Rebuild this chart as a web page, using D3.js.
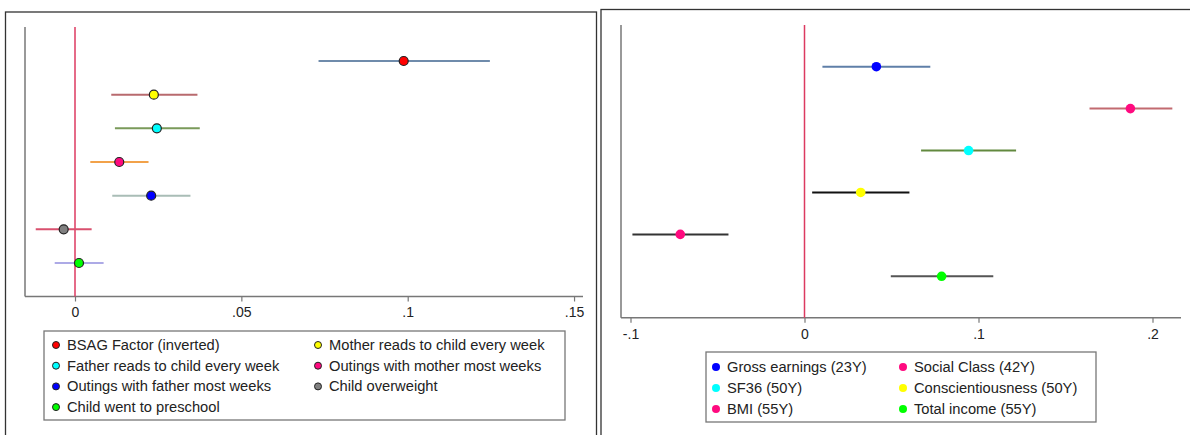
<!DOCTYPE html>
<html>
<head>
<meta charset="utf-8">
<script src="https://cdn.jsdelivr.net/npm/d3@7"></script>
<style>
  body { margin: 0; background: #fff; }
  svg text { font-family: "Liberation Sans", Arial, Helvetica, sans-serif; fill: #222; }
</style>
</head>
<body>
<svg id="chart" width="1190" height="435"></svg>
<script>
// Left panel: childhood factors
var leftLabels = ["BSAG Factor (inverted)", "Mother reads to child every week", "Father reads to child every week",
                  "Outings with mother most weeks", "Outings with father most weeks", "Child overweight", "Child went to preschool"]
var leftEst = [0.0988, 0.0237, 0.0246, 0.0133, 0.0229, -0.0034, 0.0012]
var leftLo  = [0.0732, 0.0109, 0.0120, 0.0046, 0.0112, -0.0118, -0.0061]
var leftHi  = [0.1247, 0.0368, 0.0375, 0.0221, 0.0347, 0.0050, 0.0086]
var leftDot = ["#ff0000", "#ffff00", "#00ffff", "#ff0a7f", "#0000ff", "#808080", "#00ff00"]
var leftCi  = ["#6f8bab", "#b86a6e", "#7a9a5a", "#f2a24a", "#a9bdb6", "#d9506e", "#adaae6"]
var leftTicks = [0, 0.05, 0.1, 0.15]
var leftTickLabels = ["0", ".05", ".1", ".15"]

// Right panel: adult outcomes
var rightLabels = ["Gross earnings (23Y)", "Social Class (42Y)", "SF36 (50Y)", "Conscientiousness (50Y)", "BMI (55Y)", "Total income (55Y)"]
var rightEst = [0.0413, 0.1873, 0.0943, 0.0323, -0.0714, 0.0788]
var rightLo  = [0.0103, 0.1638, 0.0670, 0.0044, -0.0989, 0.0496]
var rightHi  = [0.0723, 0.2114, 0.1216, 0.0603, -0.0437, 0.1085]
var rightDot = ["#0000ff", "#ff0a7f", "#00ffff", "#ffff00", "#ff0a7f", "#00ff00"]
var rightCi  = ["#5f7fa8", "#c26a70", "#62893f", "#111111", "#333333", "#555555"]
var rightTicks = [-0.1, 0, 0.1, 0.2]
var rightTickLabels = ["-.1", "0", ".1", ".2"]

var svg = d3.select("#chart")

//Draws one panel of the coefficient plot
function drawPanel(p) {
  var g = svg.append("g")

  //outer frame
  g.append("rect")
    .attr("x", p.frame[0]).attr("y", p.frame[1])
    .attr("width", p.frame[2]).attr("height", p.frame[3])
    .attr("fill", "none").attr("stroke", "#333").attr("stroke-width", 1.3)

  var x = d3.scaleLinear().domain(p.domain).range(p.range)
  var y = d3.scalePoint().domain(d3.range(p.est.length)).range(p.rows)

  //axis lines
  g.append("line")
    .attr("x1", p.axisX).attr("x2", p.axisX)
    .attr("y1", p.top).attr("y2", p.axisY)
    .attr("stroke", "#777").attr("stroke-width", 1.5)

  var xAxis = d3.axisBottom(x)
    .tickValues(p.ticks)
    .tickFormat(function(d, i) { return p.tickLabels[i] })
    .tickSize(5).tickPadding(6)

  var ax = g.append("g")
    .attr("transform", "translate(0," + p.axisY + ")")
    .call(xAxis)
  ax.select(".domain").remove()
  ax.selectAll(".tick line").attr("stroke", "#777").attr("stroke-width", 1.2)
  ax.selectAll(".tick text").style("font-size", "14px").attr("fill", "#222")
  g.append("line")
    .attr("x1", p.axisX).attr("x2", p.axisEnd)
    .attr("y1", p.axisY).attr("y2", p.axisY)
    .attr("stroke", "#777").attr("stroke-width", 1.5)

  //zero reference line
  g.append("line")
    .attr("x1", x(0)).attr("x2", x(0))
    .attr("y1", p.top).attr("y2", p.axisY)
    .attr("stroke", "#dc3a60").attr("stroke-width", 1.5)

  //confidence intervals
  g.selectAll(".ci").data(p.est).enter().append("line")
    .attr("x1", function(d, i) { return x(p.lo[i]) })
    .attr("x2", function(d, i) { return x(p.hi[i]) })
    .attr("y1", function(d, i) { return y(i) })
    .attr("y2", function(d, i) { return y(i) })
    .attr("stroke", function(d, i) { return p.ci[i] })
    .attr("stroke-width", 2)

  //point estimates
  g.selectAll(".dot").data(p.est).enter().append("circle")
    .attr("cx", function(d) { return x(d) })
    .attr("cy", function(d, i) { return y(i) })
    .attr("r", p.outline ? 4.5 : 4.8)
    .attr("fill", function(d, i) { return p.dot[i] })
    .attr("stroke", p.outline ? "#222" : "none")
    .attr("stroke-width", 1.2)

  //legend box
  var lb = p.legend
  g.append("rect")
    .attr("x", lb.x).attr("y", lb.y).attr("width", lb.w).attr("height", lb.h)
    .attr("fill", "#fff").attr("stroke", "#777").attr("stroke-width", 1.3)

  p.labels.forEach(function(lab, i) {
    var col = i % 2, row = Math.floor(i / 2)
    var lx = lb.x + lb.cols[col]
    var ly = lb.y + lb.row0 + row * lb.rowH
    g.append("circle")
      .attr("cx", lx).attr("cy", ly)
      .attr("r", p.outline ? 3.5 : 4)
      .attr("fill", p.dot[i])
      .attr("stroke", p.outline ? "#222" : "none")
      .attr("stroke-width", 1)
    g.append("text")
      .attr("x", lx + 11).attr("y", ly + 5)
      .style("font-size", "14.7px")
      .text(lab)
  })
}

drawPanel({
  frame: [5.5, 12, 591, 440],
  domain: [0, 0.1], range: [75, 407.7],
  rows: [61, 263],
  top: 27, axisX: 25, axisY: 296.5, axisEnd: 583,
  ticks: leftTicks, tickLabels: leftTickLabels,
  est: leftEst, lo: leftLo, hi: leftHi, dot: leftDot, ci: leftCi, labels: leftLabels,
  outline: true,
  legend: { x: 44, y: 331, w: 521, h: 89, cols: [12, 274], row0: 14, rowH: 20.7 }
})

drawPanel({
  frame: [601, 9.5, 600, 440],
  domain: [0, 0.1], range: [804.5, 978.5],
  rows: [66.7, 276.3],
  top: 25, axisX: 621, axisY: 317.7, axisEnd: 1181,
  ticks: rightTicks, tickLabels: rightTickLabels,
  est: rightEst, lo: rightLo, hi: rightHi, dot: rightDot, ci: rightCi, labels: rightLabels,
  outline: false,
  legend: { x: 706, y: 352, w: 390, h: 70, cols: [10, 197], row0: 15, rowH: 21 }
})
</script>
</body>
</html>
